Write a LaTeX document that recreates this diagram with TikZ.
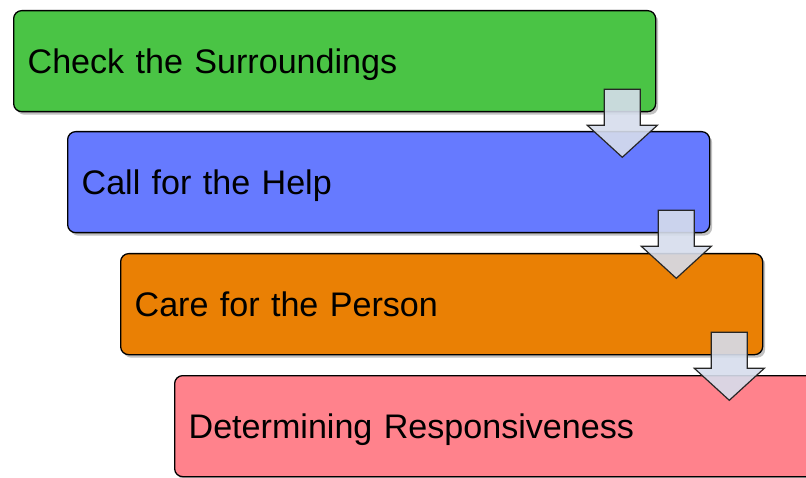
\documentclass[tikz,border=0pt]{standalone}
\usepackage{fontspec}
\setmainfont{Liberation Sans}
\usetikzlibrary{calc,shadows}
\definecolor{cgreen}{RGB}{74,196,69}
\definecolor{cblue}{RGB}{102,122,255}
\definecolor{corange}{RGB}{234,128,4}
\definecolor{cpink}{RGB}{255,130,140}
\definecolor{carrow}{RGB}{214,221,236}
\tikzset{
  stepbox/.style={draw=black, line width=1.3pt, rounded corners=8pt, anchor=north west,
    minimum width=642pt, minimum height=101pt, text width=614pt, align=left,
    inner xsep=14pt, inner ysep=0pt, text height=24.4pt, text depth=0pt,
    font=\fontsize{34.1}{40}\selectfont,
    drop shadow={shadow xshift=2.5pt, shadow yshift=-3pt, opacity=0.35, fill=black!70}},
  blockarrow/.style={draw=black!85, line width=1.2pt, fill=carrow, fill opacity=0.9, line join=miter}
}
\newcommand{\blockarr}[1]{%
  \draw[blockarrow] ($(#1.south east)+(-34,-23)$) ++(-18,0) -- ++(36,0) -- ++(0,36) -- ++(17,0)
    -- ++(-35,32) -- ++(-35,-32) -- ++(17,0) -- cycle;}
\begin{document}
\begin{tikzpicture}[x=1pt,y=-1pt]
\useasboundingbox (0,0) rectangle (806,478);
\clip (0,0) rectangle (806,478);
\node[stepbox, fill=cgreen] (b1) at (13,10) {Check the Surroundings};
\node[stepbox, fill=cblue] (b2) at (67,131) {Call for the Help};
\node[stepbox, fill=corange] (b3) at (120,253) {Care for the Person};
\node[stepbox, fill=cpink] (b4) at (174,375) {Determining Responsiveness};
\blockarr{b1}
\blockarr{b2}
\blockarr{b3}
\end{tikzpicture}
\end{document}
